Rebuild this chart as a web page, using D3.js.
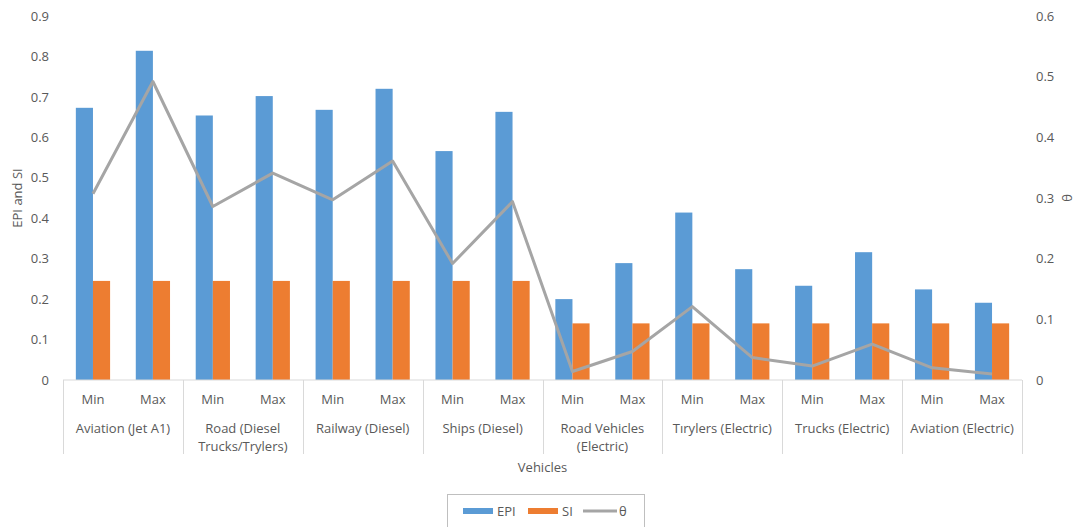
<!DOCTYPE html>
<html>
<head>
<meta charset="utf-8">
<script src="https://cdn.jsdelivr.net/npm/d3@7"></script>
<style>
  html, body { margin: 0; padding: 0; background: #fff; }
  svg { display: block; }
  text { font-family: "Open Sans", "Liberation Sans", sans-serif; fill: #595959; }
</style>
</head>
<body>
<svg id="chart" width="1076" height="527"></svg>
<script>
// Vehicle groups, each split into a Min and a Max case
const groups = [
  "Aviation (Jet A1)",
  "Road (Diesel|Trucks/Trylers)",
  "Railway (Diesel)",
  "Ships (Diesel)",
  "Road Vehicles|(Electric)",
  "Tırylers (Electric)",
  "Trucks (Electric)",
  "Aviation (Electric)"
];
const cases = ["Min", "Max"];

// Series values, in order Min/Max for each group
const epi = [0.673, 0.814, 0.654, 0.702, 0.668, 0.720, 0.566, 0.663,
             0.200, 0.289, 0.414, 0.274, 0.233, 0.316, 0.224, 0.191];
const si = [0.245, 0.245, 0.245, 0.245, 0.245, 0.245, 0.245, 0.245,
            0.140, 0.140, 0.140, 0.140, 0.140, 0.140, 0.140, 0.140];
const theta = [0.307, 0.492, 0.286, 0.341, 0.297, 0.361, 0.192, 0.294,
               0.014, 0.047, 0.121, 0.037, 0.023, 0.059, 0.020, 0.010];

const leftTicks = [0, 0.1, 0.2, 0.3, 0.4, 0.5, 0.6, 0.7, 0.8, 0.9];
const rightTicks = [0, 0.1, 0.2, 0.3, 0.4, 0.5, 0.6];
const seriesNames = ["EPI", "SI", "θ"];
const colors = { EPI: "#5B9BD5", SI: "#ED7D31", "θ": "#A5A5A5" };

const svg = d3.select("#chart");
const plot = { left: 63, right: 1022, top: 16, bottom: 380 };

// One band per Min/Max slot
const keys = d3.range(groups.length * cases.length);
const x = d3.scaleBand().domain(keys).range([plot.left, plot.right]).padding(0);
const x1 = d3.scaleBand().domain(["EPI", "SI"]).range([0, x.bandwidth()])
  .paddingInner(0).paddingOuter(0.75);
const yL = d3.scaleLinear().domain([0, 0.9]).range([plot.bottom, plot.top]);
const yR = d3.scaleLinear().domain([0, 0.6]).range([plot.bottom, plot.top]);

// Bars
const barData = [];
keys.forEach(k => {
  barData.push({ k, s: "EPI", v: epi[k] });
  barData.push({ k, s: "SI", v: si[k] });
});
svg.append("g").selectAll("rect").data(barData).join("rect")
  .attr("x", d => x(d.k) + x1(d.s))
  .attr("width", x1.bandwidth())
  .attr("y", d => yL(d.v))
  .attr("height", d => yL(0) - yL(d.v))
  .attr("fill", d => colors[d.s]);

// θ line on the secondary axis
const line = d3.line()
  .x((d, i) => x(i) + x.bandwidth() / 2)
  .y(d => yR(d));
svg.append("path").datum(theta)
  .attr("d", line)
  .attr("fill", "none")
  .attr("stroke", colors["θ"])
  .attr("stroke-width", 3)
  .attr("stroke-linejoin", "round");

// Left axis (labels only)
const axL = svg.append("g").attr("transform", `translate(${plot.left},0)`)
  .call(d3.axisLeft(yL).tickValues(leftTicks).tickFormat(d => d === 0 ? "0" : d3.format(".1f")(d)).tickSize(0).tickPadding(14));
axL.select(".domain").remove();
axL.selectAll("text").style("font-size", "13px").attr("fill", "#595959");

// Right axis (labels only)
const axR = svg.append("g").attr("transform", `translate(${plot.right},0)`)
  .call(d3.axisRight(yR).tickValues(rightTicks).tickFormat(d => d === 0 ? "0" : d3.format(".1f")(d)).tickSize(0).tickPadding(14));
axR.select(".domain").remove();
axR.selectAll("text").style("font-size", "13px").attr("fill", "#595959");

// Multi-level category axis
const axisColor = "#D9D9D9";
const axG = svg.append("g");
axG.append("line")
  .attr("x1", plot.left).attr("x2", plot.right)
  .attr("y1", plot.bottom).attr("y2", plot.bottom)
  .attr("stroke", axisColor);
const groupStep = x.step() * cases.length;
d3.range(groups.length + 1).forEach(i => {
  const gx = Math.round(plot.left + i * groupStep) + 0.5;
  axG.append("line")
    .attr("x1", gx).attr("x2", gx)
    .attr("y1", plot.bottom).attr("y2", 454)
    .attr("stroke", axisColor);
});
axG.selectAll("text.case").data(keys).join("text")
  .attr("class", "case")
  .attr("x", k => x(k) + x.bandwidth() / 2)
  .attr("y", 404)
  .attr("text-anchor", "middle")
  .style("font-size", "13px")
  .text(k => cases[k % cases.length]);
groups.forEach((g, i) => {
  const cx = plot.left + (i + 0.5) * groupStep;
  const t = axG.append("text")
    .attr("x", cx).attr("y", 433)
    .attr("text-anchor", "middle")
    .style("font-size", "13px");
  g.split("|").forEach((ln, j) => {
    t.append("tspan").attr("x", cx).attr("dy", j === 0 ? 0 : 18).text(ln);
  });
});

// Axis titles
svg.append("text")
  .attr("transform", `translate(22,${(plot.top + plot.bottom) / 2}) rotate(-90)`)
  .attr("text-anchor", "middle")
  .style("font-size", "13px")
  .text("EPI and SI");
svg.append("text")
  .attr("transform", `translate(1067,${(plot.top + plot.bottom) / 2}) rotate(-90)`)
  .attr("text-anchor", "middle")
  .attr("dy", "0.35em")
  .style("font-size", "13px")
  .text("θ");
svg.append("text")
  .attr("x", (plot.left + plot.right) / 2).attr("y", 472)
  .attr("text-anchor", "middle")
  .style("font-size", "13px")
  .text("Vehicles");

// Legend
const lg = svg.append("g");
lg.append("rect")
  .attr("x", 447.5).attr("y", 494.5).attr("width", 197).attr("height", 40)
  .attr("fill", "#fff").attr("stroke", "#BFBFBF");
const legendItems = [
  { s: "EPI", x: 463 },
  { s: "SI", x: 528 },
  { s: "θ", x: 583 }
];
legendItems.forEach(it => {
  if (it.s === "θ") {
    lg.append("line")
      .attr("x1", it.x).attr("x2", it.x + 34)
      .attr("y1", 511).attr("y2", 511)
      .attr("stroke", colors[it.s]).attr("stroke-width", 3);
    lg.append("text").attr("x", it.x + 36).attr("y", 515.5)
      .style("font-size", "13px").text(it.s);
  } else {
    lg.append("rect")
      .attr("x", it.x).attr("y", 508).attr("width", 30).attr("height", 6)
      .attr("fill", colors[it.s]);
    lg.append("text").attr("x", it.x + 34).attr("y", 515.5)
      .style("font-size", "13px").text(it.s);
  }
});
</script>
</body>
</html>
